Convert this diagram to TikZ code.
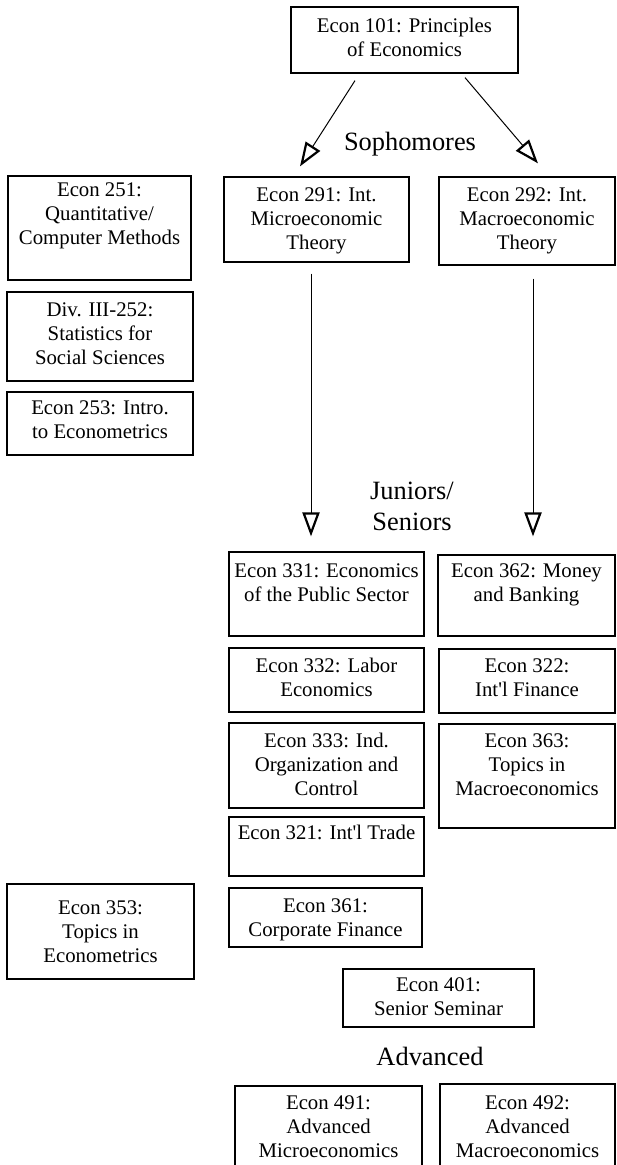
\documentclass[tikz,border=0pt]{standalone}
\usepackage{fontspec}
\setmainfont{Liberation Serif}[Ligatures=TeXOff]
\usetikzlibrary{arrows.meta,fit,calc}
\newcommand{\boxfont}{\fontsize{20.8}{24}\selectfont}
\newcommand{\headfont}{\fontsize{26.4}{31}\selectfont}
% name, x1, y1, x2, y2, baseline offset, text
\newcommand{\cbox}[7]{%
  \node[box, fit={(#2,#3) (#4,#5)}] (#1) {};
  \node[txt] (#1t) at ($(#1.north)+(0,#6-14.2)$) {#7};}
\tikzset{
  box/.style={draw, line width=1.2pt, inner sep=0pt},
  txt/.style={anchor=north, align=center, inner sep=0pt, font=\boxfont},
  head/.style={align=center, inner sep=0pt, font=\headfont},
  arr/.style={line width=1pt, -{Triangle[open, length=24pt, width=17pt, line width=2.2pt]}}
}
\begin{document}
\begin{tikzpicture}[x=1pt, y=-1pt]
\useasboundingbox (0,0) rectangle (616,1165);
\begin{scope}
\clip (0,0) rectangle (616,1165);
\cbox{e101}{291}{7}{518}{73}{26}{Econ 101: Principles\\of Economics}
\cbox{e291}{224}{177}{409}{262}{25}{Econ 291: Int.\\Microeconomic\\Theory}
\cbox{e292}{439}{177}{615}{265}{25}{Econ 292: Int.\\Macroeconomic\\Theory}
\cbox{e251}{8}{176}{191}{280}{21}{Econ 251:\\Quantitative/\\Computer Methods}
\cbox{d252}{7}{292}{193}{381}{25}{Div. III-252:\\Statistics for\\Social Sciences}
\cbox{e253}{7}{392}{193}{455}{23}{Econ 253: Intro.\\to Econometrics}
\cbox{e331}{229}{552}{424}{636}{26}{Econ 331: Economics\\of the Public Sector}
\cbox{e362}{438}{555}{615}{636}{23}{Econ 362: Money\\and Banking}
\cbox{e332}{229}{648}{424}{712}{25}{Econ 332: Labor\\Economics}
\cbox{e322}{439}{649}{615}{713}{24}{Econ 322:\\Int'l Finance}
\cbox{e333}{229}{723}{424}{808}{25}{Econ 333: Ind.\\Organization and\\Control}
\cbox{e363}{439}{724}{615}{828}{24}{Econ 363:\\Topics in\\Macroeconomics}
\cbox{e321}{229}{817}{424}{876}{23}{Econ 321: Int'l Trade}
\cbox{e353}{7}{884}{194}{979}{31}{Econ 353:\\Topics in\\Econometrics}
\cbox{e361}{229}{888}{422}{947}{25}{Econ 361:\\Corporate Finance}
\cbox{e401}{343}{969}{534}{1027}{23}{Econ 401:\\Senior Seminar}
\cbox{e491}{235}{1086}{422}{1180}{24}{Econ 491:\\Advanced\\Microeconomics}
\cbox{e492}{440}{1084}{615}{1180}{26}{Econ 492:\\Advanced\\Macroeconomics}
\end{scope}
\node[head, anchor=base] (soph) at (410,150) {Sophomores};
\node[head, anchor=north] (junsen) at (412,482) {Juniors/\\Seniors};
\node[head, anchor=base] (adv) at (430,1065) {Advanced};
\draw[arr] ([xshift=-49.5pt, yshift=-7pt]e101.south) -- ([xshift=-16.5pt, yshift=10pt]e291.north);
\draw[arr] ([xshift=60.5pt, yshift=-4pt]e101.south) -- ([xshift=11pt, yshift=13pt]e292.north);
\draw[arr] ([xshift=-5.5pt, yshift=-11pt]e291.south) -- ([xshift=-15.5pt, yshift=15pt]e331.north);
\draw[arr] ([xshift=6pt, yshift=-13pt]e292.south) -- ([xshift=6.5pt, yshift=18pt]e362.north);
\end{tikzpicture}
\end{document}
